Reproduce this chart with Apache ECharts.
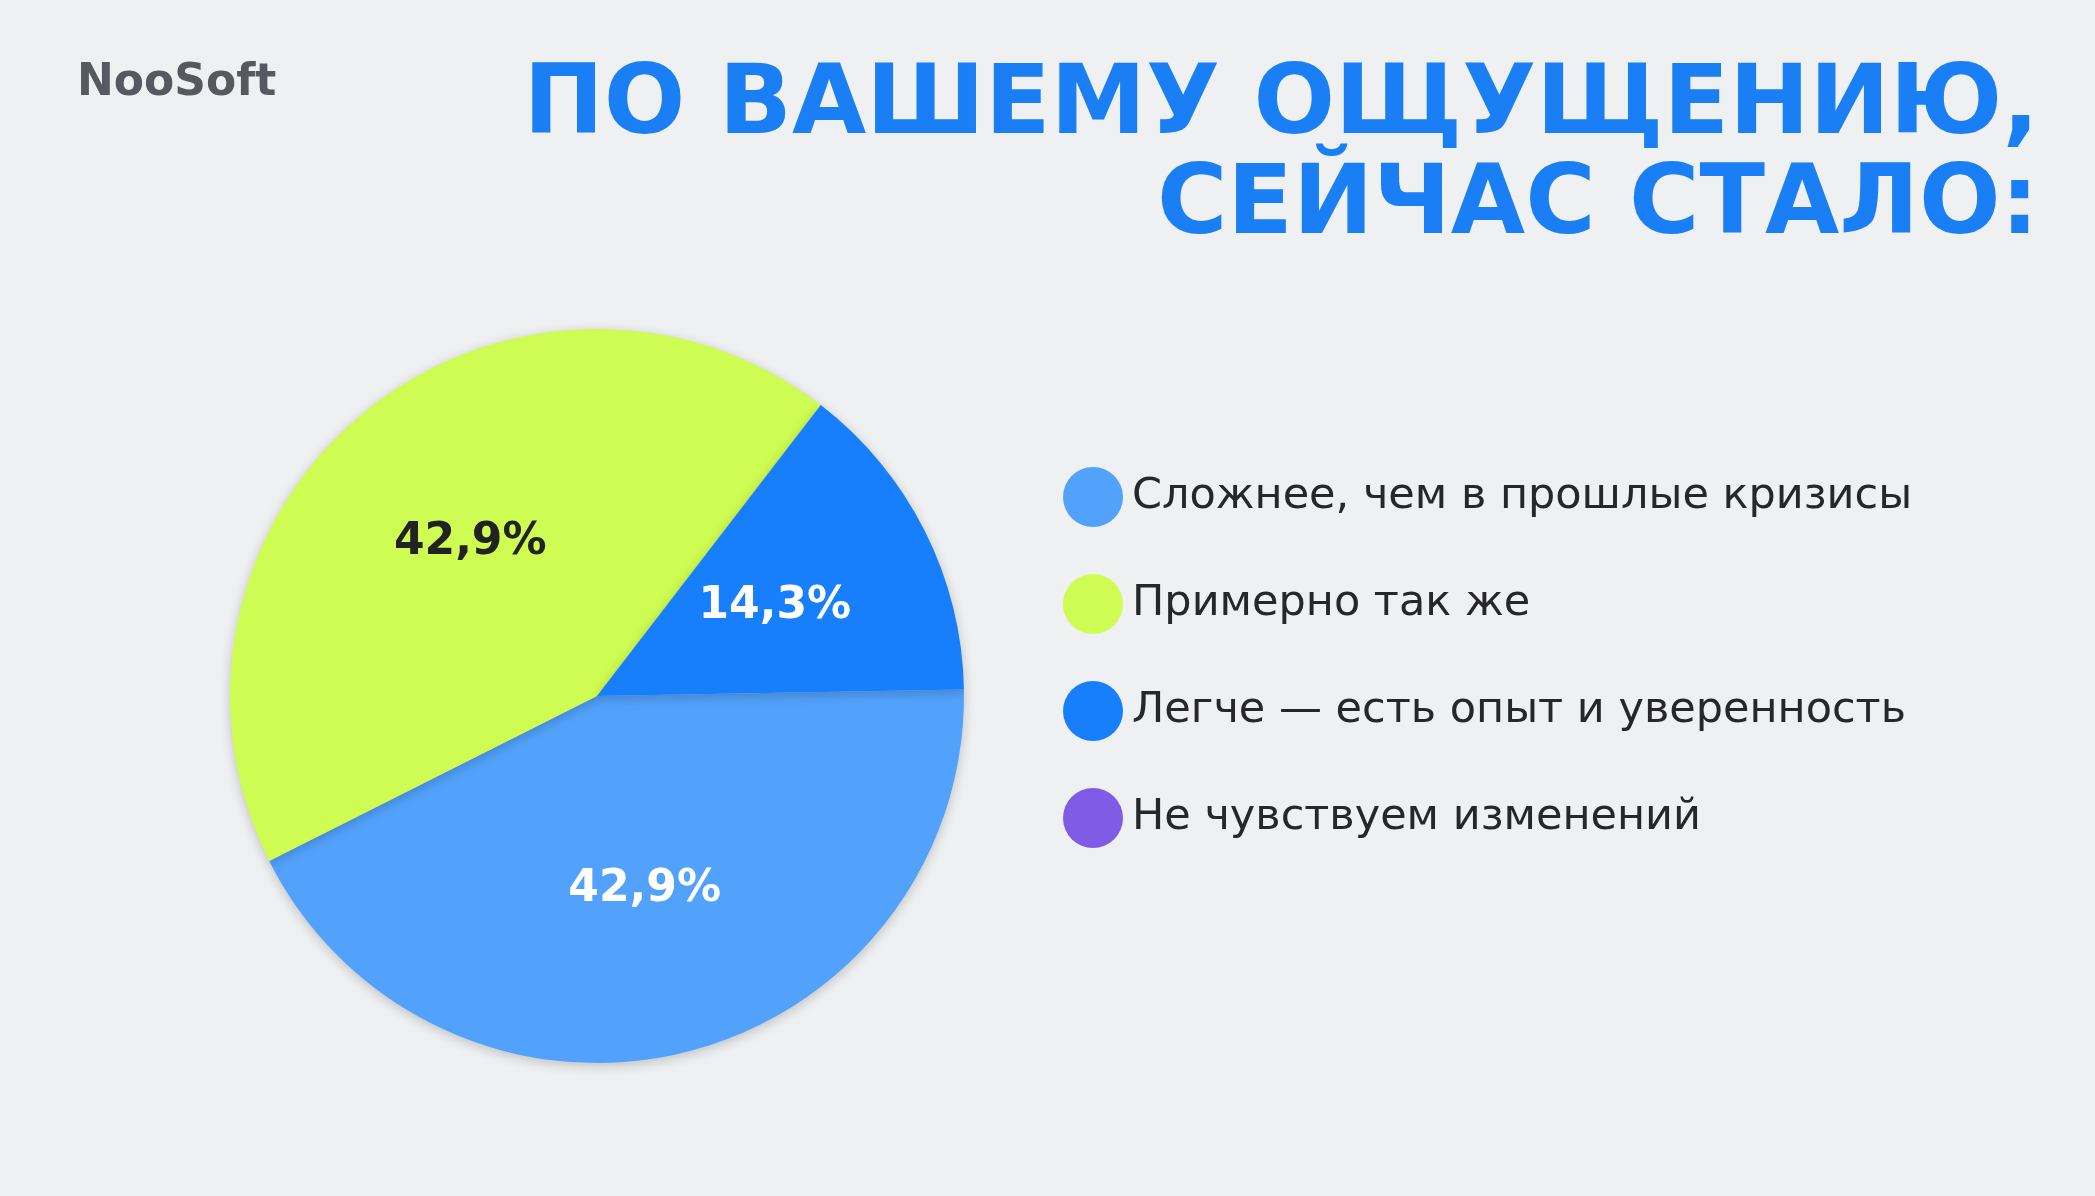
<!DOCTYPE html>
<html><head><meta charset="utf-8">
<script src="https://cdn.jsdelivr.net/npm/echarts@6/dist/echarts.min.js"></script>
<style>html,body{margin:0;padding:0;background:#eff0f2}#main{width:2095px;height:1196px}</style>
</head><body><div id="main"></div>
<script>
var categories = ['Сложнее, чем в прошлые кризисы', 'Примерно так же', 'Легче — есть опыт и уверенность', 'Не чувствуем изменений'];
var values = [42.9, 42.9, 14.3, 0];
var colors = ['#52a2fc', '#cffc52', '#177ffc', '#7f5ce6'];
var labelColors = ['#ffffff', '#222222', '#ffffff', '#ffffff'];
var titleLines = ['ПО ВАШЕМУ ОЩУЩЕНИЮ,', 'СЕЙЧАС СТАЛО:'];

var myChart = echarts.init(document.getElementById('main'));

var pieData = categories.map(function (c, i) {
    return { name: c, value: values[i], itemStyle: { color: colors[i] }, label: { show: false } };
});
var labelData = categories.map(function (c, i) {
    return { name: c, value: values[i], itemStyle: { color: 'transparent' }, label: { color: labelColors[i] } };
});

var option = {
    backgroundColor: '#eff0f2',
    graphic: [
        { type: 'text', left: 77, top: 62, style: { text: 'NooSoft', font: 'bold 44px "DejaVu Sans"', fill: '#555a60' } },
        { type: 'text', right: 56, top: 60, style: { text: titleLines[0], font: 'bold 96px "DejaVu Sans"', fill: '#1a7ff5' } },
        { type: 'text', right: 56, top: 160, style: { text: titleLines[1], font: 'bold 96px "DejaVu Sans"', fill: '#1a7ff5' } }
    ],
    legend: {
        orient: 'vertical', left: 1058, top: 462,
        icon: 'circle', itemWidth: 60, itemHeight: 60, itemGap: 47,
        data: categories,
        textStyle: { fontFamily: 'DejaVu Sans', fontSize: 43, fontWeight: 500, color: '#26262b', padding: [0, 0, 0, 4] }
    },
    series: [{
        type: 'pie',
        center: [597, 696], radius: 367,
        startAngle: 1,
        itemStyle: { shadowBlur: 12, shadowColor: 'rgba(0,0,0,0.2)', shadowOffsetY: 3 },
        label: { show: false },
        labelLine: { show: false },
        emphasis: { disabled: true },
        data: pieData
    }, {
        type: 'pie', silent: true,
        center: [597, 696], radius: 392,
        startAngle: 1,
        legendHoverLink: false,
        label: {
            position: 'inside', fontFamily: 'DejaVu Sans', fontSize: 44, fontWeight: 'bold',
            formatter: function (p) { return p.value ? String(p.value).replace('.', ',') + '%' : ''; }
        },
        labelLine: { show: false },
        emphasis: { disabled: true },
        data: labelData
    }]
};
myChart.setOption(option);
</script></body></html>
